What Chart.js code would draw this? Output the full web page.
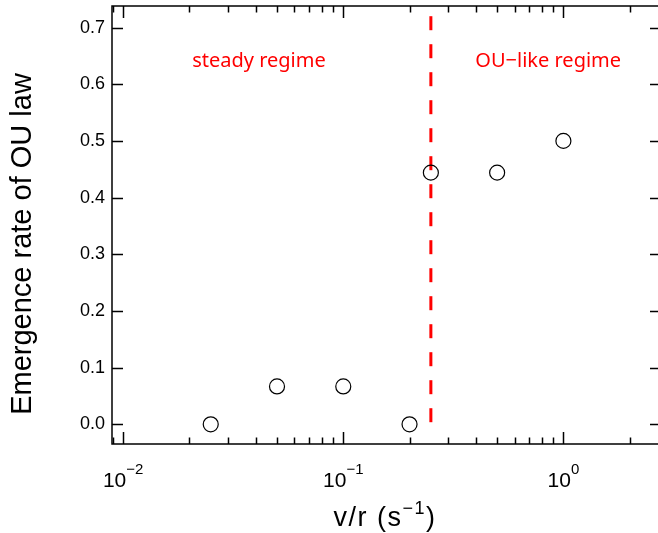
<!DOCTYPE html>
<html>
<head>
<meta charset="utf-8">
<script src="https://cdn.jsdelivr.net/npm/chart.js@4/dist/chart.umd.min.js"></script>
<style>
  html, body { margin: 0; padding: 0; background: #fff; }
  canvas { display: block; }
</style>
</head>
<body>
<canvas id="ou-chart" width="658" height="533"></canvas>
<script>
// measured emergence rate vs. v/r
var speedRatio = [0.025, 0.05, 0.1, 0.2, 0.25, 0.5, 1.0];
var emergenceRate = [0.0, 0.0667, 0.0667, 0.0, 0.444, 0.444, 0.5];

// boundary between the two regimes
var boundaryX = 0.25;
var boundaryY = [0.72, -0.008];

// regime labels (anchored in data units)
var regimeNames = ['steady regime', 'OU\u2212like regime'];
var regimeX = [0.0414, 0.853];
var regimeY = [0.63, 0.63];

var decadeExps = [-2, -1, 0];
var yTicks = [0, 0.1, 0.2, 0.3, 0.4, 0.5, 0.6, 0.7];

var points = speedRatio.map(function(v, i) { return { x: v, y: emergenceRate[i] }; });
var boundary = boundaryY.map(function(y) { return { x: boundaryX, y: y }; });

var sansFont = '"Liberation Sans", Arial, sans-serif';

function noPadding(scale) {
    scale.paddingTop = 0;
    scale.paddingBottom = 0;
    scale.paddingLeft = 0;
    scale.paddingRight = 0;
}

// frame, inward ticks, log labels and axis titles
var framePlugin = {
    id: 'frame',
    afterDraw: function(chart) {
        var ctx = chart.ctx;
        var area = chart.chartArea;
        var xs = chart.scales.x;
        var ys = chart.scales.y;
        ctx.save();
        ctx.strokeStyle = '#000';
        ctx.lineWidth = 1.5;

        // frame (right side falls outside the canvas)
        ctx.beginPath();
        ctx.moveTo(area.right + 5, area.top);
        ctx.lineTo(area.left, area.top);
        ctx.lineTo(area.left, area.bottom);
        ctx.lineTo(area.right + 5, area.bottom);
        ctx.stroke();

        // y ticks, left and right
        ctx.beginPath();
        yTicks.forEach(function(v) {
            var py = Math.round(ys.getPixelForValue(v)) + 0.5;
            ctx.moveTo(area.left, py);
            ctx.lineTo(area.left + 11, py);
            ctx.moveTo(area.right - 8, py);
            ctx.lineTo(area.right, py);
        });
        ctx.stroke();

        // x ticks: majors at decades, minors at 2..9
        ctx.beginPath();
        for (var e = -3; e <= 1; e++) {
            for (var m = 1; m <= 9; m++) {
                var v = m * Math.pow(10, e);
                if (v < xs.min || v > xs.max) continue;
                var px = Math.round(xs.getPixelForValue(v)) + 0.5;
                var len = m === 1 ? 12 : 6.5;
                ctx.moveTo(px, area.bottom);
                ctx.lineTo(px, area.bottom - len);
                ctx.moveTo(px, area.top);
                ctx.lineTo(px, area.top + len);
            }
        }
        ctx.stroke();

        // decade labels 10^n
        ctx.fillStyle = '#000';
        ctx.textBaseline = 'alphabetic';
        ctx.textAlign = 'left';
        decadeExps.forEach(function(exp) {
            var px = xs.getPixelForValue(Math.pow(10, exp));
            var base = '10';
            var sup = exp < 0 ? '\u2212' + (-exp) : String(exp);
            ctx.font = '21px ' + sansFont;
            var wb = ctx.measureText(base).width;
            ctx.font = '15px ' + sansFont;
            var ws = ctx.measureText(sup).width;
            var x0 = px - (wb + ws) / 2;
            ctx.font = '21px ' + sansFont;
            ctx.fillText(base, x0, 487);
            ctx.font = '15px ' + sansFont;
            ctx.fillText(sup, x0 + wb, 474);
        });

        // x title: v/r (s^-1)
        ctx.letterSpacing = '1.5px';
        var parts = [['v/r (s', '27px', 526], ['\u22121', '18px', 514], [')', '27px', 526]];
        var total = 0;
        parts.forEach(function(p) {
            ctx.font = p[1] + ' ' + sansFont;
            p.push(ctx.measureText(p[0]).width);
            total += p[3];
        });
        var cx = (area.left + area.right) / 2 - total / 2;
        parts.forEach(function(p) {
            ctx.font = p[1] + ' ' + sansFont;
            ctx.fillText(p[0], cx, p[2]);
            cx += p[3];
        });
        ctx.letterSpacing = '0px';

        // y title
        ctx.save();
        ctx.translate(31, 244);
        ctx.rotate(-Math.PI / 2);
        ctx.textAlign = 'center';
        ctx.font = '29px ' + sansFont;
        ctx.fillText('Emergence rate of OU law', 0, 0);
        ctx.restore();

        // regime labels
        ctx.fillStyle = '#ff0000';
        ctx.textAlign = 'center';
        ctx.font = '20px "Noto Sans", sans-serif';
        regimeNames.forEach(function(name, i) {
            ctx.fillText(name, xs.getPixelForValue(regimeX[i]), ys.getPixelForValue(regimeY[i]));
        });
        ctx.restore();
    }
};

var ouChart = new Chart(document.getElementById('ou-chart'), {
    type: 'scatter',
    data: {
        datasets: [{
            label: 'Emergence rate',
            data: points,
            showLine: false,
            pointRadius: 7.5,
            pointBorderWidth: 1.2,
            pointBorderColor: '#000',
            pointBackgroundColor: 'rgba(255,255,255,0)'
        }, {
            label: 'Boundary',
            data: boundary,
            showLine: true,
            borderColor: '#ff0000',
            borderWidth: 3,
            borderDash: [14, 14],
            pointRadius: 0
        }]
    },
    options: {
        responsive: false,
        animation: false,
        devicePixelRatio: 1,
        layout: { autoPadding: false, padding: { top: 6, right: 0, left: 0, bottom: 0 } },
        plugins: {
            legend: { display: false },
            tooltip: { enabled: false }
        },
        scales: {
            x: {
                type: 'logarithmic',
                min: 0.0089,
                max: 2.69,
                grid: { display: false },
                border: { display: false },
                ticks: { display: false },
                afterFit: function(scale) { scale.height = 89; noPadding(scale); }
            },
            y: {
                min: -0.0348,
                max: 0.738,
                grid: { display: false, drawTicks: false },
                border: { display: false },
                ticks: {
                    stepSize: 0.1,
                    includeBounds: false,
                    padding: 7,
                    color: '#000',
                    font: { family: sansFont, size: 18 },
                    callback: function(v) { return v.toFixed(1); }
                },
                afterFit: function(scale) { scale.width = 112; noPadding(scale); }
            }
        }
    },
    plugins: [framePlugin]
});
</script>
</body>
</html>
